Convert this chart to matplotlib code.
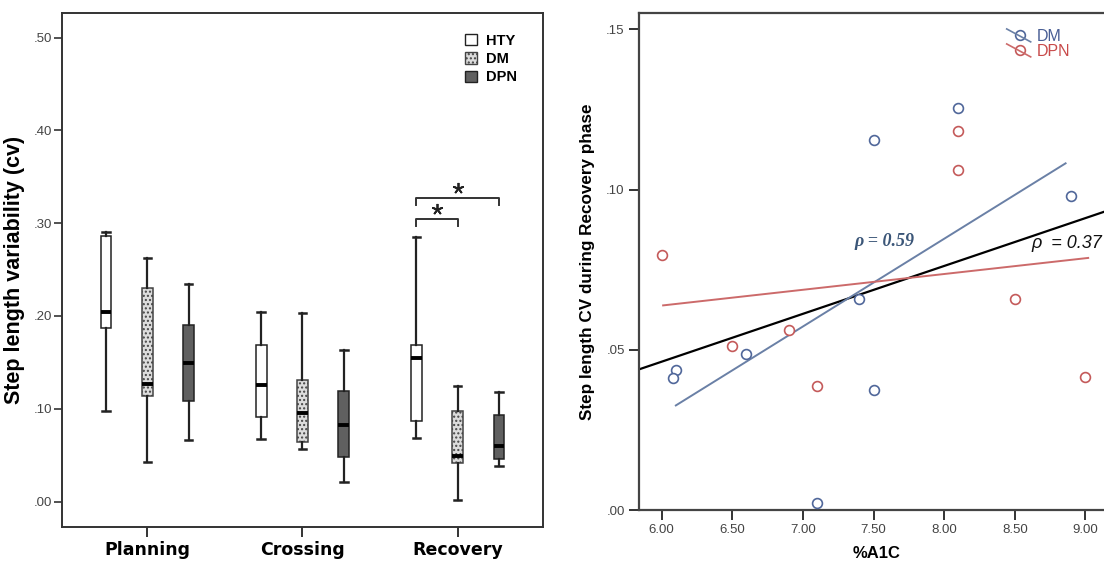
import matplotlib
matplotlib.use("Agg")
import matplotlib.pyplot as plt
from matplotlib.patches import Patch
from matplotlib.lines import Line2D
from matplotlib.legend_handler import HandlerBase

plt.rcParams['font.family'] = ['Liberation Sans', 'DejaVu Sans']

# ---------------- data: left panel (box plots) ----------------
phases = ["Planning", "Crossing", "Recovery"]
groups = ["HTY", "DM", "DPN"]
# per group, per phase: (whislo, q1, med, q3, whishi)
hty_stats = [(0.098, 0.187, 0.204, 0.286, 0.291),
             (0.067, 0.091, 0.126, 0.169, 0.204),
             (0.068, 0.087, 0.155, 0.169, 0.285)]
dm_stats = [(0.043, 0.114, 0.127, 0.230, 0.263),
            (0.057, 0.064, 0.095, 0.131, 0.203),
            (0.002, 0.041, 0.049, 0.098, 0.125)]
dpn_stats = [(0.066, 0.108, 0.149, 0.190, 0.234),
             (0.021, 0.048, 0.082, 0.119, 0.163),
             (0.038, 0.046, 0.060, 0.093, 0.118)]
y_ticks_left = [0.0, 0.1, 0.2, 0.3, 0.4, 0.5]
y_ticklabels_left = [".00", ".10", ".20", ".30", ".40", ".50"]
sig_pairs = [("HTY", "DM", 0.3044), ("HTY", "DPN", 0.327)]

# ---------------- data: right panel (scatter) ----------------
dm_a1c = [8.10, 7.50, 8.90, 7.40, 6.60, 6.10, 6.08, 7.50, 7.10]
dm_cv = [0.1253, 0.1154, 0.0979, 0.0658, 0.0487, 0.0436, 0.0413, 0.0376, 0.0022]
dpn_a1c = [8.10, 8.10, 6.00, 8.50, 6.90, 6.50, 7.10, 9.00]
dpn_cv = [0.1182, 0.1062, 0.0795, 0.0660, 0.0563, 0.0511, 0.0387, 0.0417]
fit_dm_x = [6.10, 8.86]
fit_dm_y = [0.0327, 0.1082]
fit_dpn_x = [6.01, 9.02]
fit_dpn_y = [0.0639, 0.0787]
fit_all_x = [5.836, 9.20]
fit_all_y = [0.0439, 0.0941]
x_ticks_right = [6.0, 6.5, 7.0, 7.5, 8.0, 8.5, 9.0]
x_ticklabels_right = ["6.00", "6.50", "7.00", "7.50", "8.00", "8.50", "9.00"]
y_ticks_right = [0.0, 0.05, 0.10, 0.15]
y_ticklabels_right = [".00", ".05", ".10", ".15"]

fig = plt.figure(figsize=(11.04, 5.63), dpi=100)

# ================= LEFT PANEL =================
ax = fig.add_axes([0.0559, 0.0639, 0.4362, 0.9137])
offset = 0.266
width = 0.069
styles = {
    "HTY": dict(facecolor="white", hatch=None),
    "DM": dict(facecolor="#dcdcdc", hatch="...."),
    "DPN": dict(facecolor="#606060", hatch=None),
}
all_stats = {"HTY": hty_stats, "DM": dm_stats, "DPN": dpn_stats}
for gi, g in enumerate(groups):
    stats = []
    for (lo, q1, med, q3, hi) in all_stats[g]:
        stats.append(dict(whislo=lo, q1=q1, med=med, q3=q3, whishi=hi, fliers=[]))
    positions = [i + (gi - 1) * offset for i in range(len(phases))]
    bp = ax.bxp(stats, positions=positions, widths=width, patch_artist=True,
                showfliers=False, manage_ticks=False,
                boxprops=dict(edgecolor="#222222", linewidth=1.1),
                medianprops=dict(color="black", linewidth=2.8),
                whiskerprops=dict(color="#222222", linewidth=1.6),
                capprops=dict(color="#222222", linewidth=1.8),
                capwidths=width * 0.7)
    for b in bp["boxes"]:
        b.set_facecolor(styles[g]["facecolor"])
        if styles[g]["hatch"]:
            b.set_hatch(styles[g]["hatch"])
            b.set_edgecolor("#444444")

# significance brackets (Recovery)
rec = 2
tick_h = 0.0078
for g1, g2, yb in sig_pairs:
    x1 = rec + (groups.index(g1) - 1) * offset
    x2 = rec + (groups.index(g2) - 1) * offset
    ax.plot([x1, x1, x2, x2], [yb - tick_h, yb, yb, yb - tick_h],
            color="#333333", lw=1.4)
    ax.plot([(x1 + x2) / 2], [yb + 0.0105], marker=(5, 2, 0), markersize=8,
            markeredgewidth=1.3, color="#222222", linestyle="none")

ax.set_xlim(-0.552, 2.552)
ax.set_ylim(-0.0275, 0.527)
ax.set_xticks(range(len(phases)))
ax.set_xticklabels(phases, fontsize=12.5, fontweight="bold", family="DejaVu Sans")
ax.set_yticks(y_ticks_left)
ax.set_yticklabels(y_ticklabels_left, fontsize=9.5, color="#444444")
ax.tick_params(axis="y", direction="out", length=6, width=1.2, color="#333333", pad=1)
ax.tick_params(axis="x", direction="out", length=7, width=1.4, color="#333333", pad=3)
for s in ax.spines.values():
    s.set_color("#333333")
    s.set_linewidth(1.4)
ax.set_ylabel("Step length variability (cv)", fontsize=15.5, fontweight="bold", labelpad=6)

handles = [Patch(facecolor="white", edgecolor="#222222", label="HTY"),
           Patch(facecolor="#dcdcdc", edgecolor="#444444", hatch="....", label="DM"),
           Patch(facecolor="#606060", edgecolor="#222222", label="DPN")]
leg = ax.legend(handles=handles, loc="upper right", bbox_to_anchor=(0.945, 0.959),
                frameon=False, prop=dict(weight="bold", size=10.5),
                handlelength=0.85, handleheight=0.85, handletextpad=0.6,
                labelspacing=0.3, borderaxespad=0.0, borderpad=0.0)

# ================= RIGHT PANEL =================
ax2 = fig.add_axes([0.5784, 0.0936, 0.4303, 0.8840])
blue = "#50679a"
red = "#c45a5a"
ax2.plot(fit_all_x, fit_all_y, color="black", lw=1.6, zorder=2)
ax2.plot(fit_dm_x, fit_dm_y, color="#6a80a6", lw=1.4, zorder=2)
ax2.plot(fit_dpn_x, fit_dpn_y, color="#cc6a6a", lw=1.4, zorder=2)
ax2.scatter(dm_a1c, dm_cv, s=50, facecolors="white", edgecolors=blue,
            linewidths=1.2, zorder=3)
ax2.scatter(dpn_a1c, dpn_cv, s=50, facecolors="white", edgecolors=red,
            linewidths=1.2, zorder=3)

ax2.text(7.575, 0.0839, "ρ = 0.59", fontsize=13, color="#3b5678",
         fontstyle="italic", fontweight="bold", family="Liberation Serif",
         ha="center", va="center")
ax2.text(8.867, 0.0833, "ρ  = 0.37", fontsize=13, color="#111111",
         fontstyle="italic", ha="center", va="center")

ax2.set_xlim(5.836, 9.2)
ax2.set_ylim(0.0, 0.1552)
ax2.set_xticks(x_ticks_right)
ax2.set_xticklabels(x_ticklabels_right, fontsize=9.5, color="#444444")
ax2.set_yticks(y_ticks_right)
ax2.set_yticklabels(y_ticklabels_right, fontsize=9.5, color="#444444")
ax2.tick_params(direction="out", length=7, width=1.4, color="#333333", pad=3)
for s in ax2.spines.values():
    s.set_color("#444444")
    s.set_linewidth(1.6)
ax2.set_xlabel("%A1C", fontsize=12, fontweight="bold", labelpad=7)
ax2.set_ylabel("Step length CV during Recovery phase", fontsize=12.3,
               fontweight="bold", labelpad=8)


class TiltHandler(HandlerBase):
    def create_artists(self, legend, orig_handle, xdescent, ydescent,
                       width, height, fontsize, trans):
        x0, x1 = -xdescent, width - xdescent
        y0, y1 = -ydescent, height - ydescent
        circ = Line2D([(x0 + x1) / 2 + 1], [(y0 + y1) / 2], marker="o",
                      markerfacecolor="white",
                      markeredgecolor=orig_handle.get_markeredgecolor(),
                      markersize=7, markeredgewidth=1.2, linestyle="none",
                      transform=trans)
        line = Line2D([x0, x1], [y1 + 1, y0 - 1], color=orig_handle.get_color(),
                      lw=1.2, transform=trans)
        return [circ, line]


h_dm = Line2D([], [], color="#6a80a6", marker="o", markeredgecolor=blue)
h_dpn = Line2D([], [], color="#cc6a6a", marker="o", markeredgecolor=red)
leg2 = ax2.legend([h_dm, h_dpn], ["DM", "DPN"], loc="upper left",
                  bbox_to_anchor=(0.775, 0.967), frameon=False, fontsize=11.5,
                  handlelength=1.5, handleheight=0.6, handletextpad=0.4,
                  labelspacing=0.0, borderaxespad=0.0, borderpad=0.0,
                  handler_map={Line2D: TiltHandler()})
leg2.get_texts()[0].set_color("#4a5f95")
leg2.get_texts()[1].set_color("#c84a4a")

fig.savefig("out.png", dpi=100)
